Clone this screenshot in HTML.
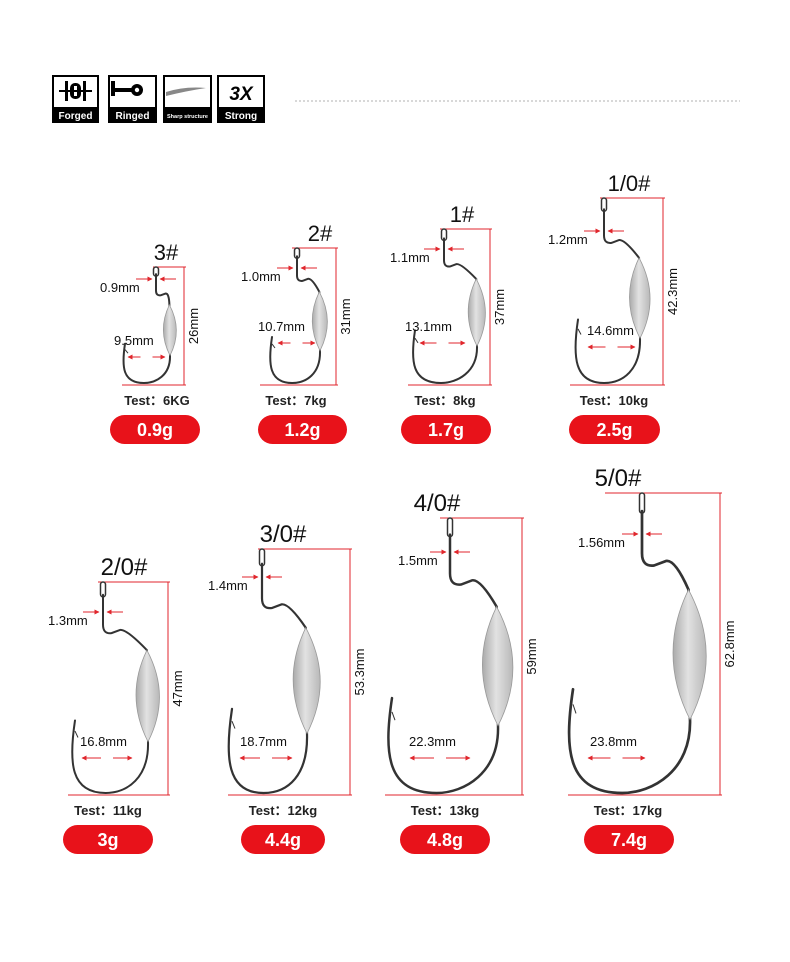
<!DOCTYPE html>
<html><head><meta charset="utf-8"><style>
body{margin:0;background:#fff;width:790px;height:957px;overflow:hidden;font-family:"Liberation Sans",sans-serif}
</style></head><body>
<svg id="s" width="790" height="957" xmlns="http://www.w3.org/2000/svg" font-family="Liberation Sans, sans-serif">
<defs>
<linearGradient id="wg" x1="0" x2="1" y1="0" y2="0"><stop offset="0" stop-color="#aaa"/><stop offset="0.45" stop-color="#e2e2e2"/><stop offset="1" stop-color="#b8b8b8"/></linearGradient>
<marker id="ar" viewBox="0 0 10 10" refX="9" refY="5" markerWidth="5" markerHeight="5" orient="auto"><path d="M0,0L10,5L0,10z" fill="#e0262c"/></marker>
</defs>
<g>
<rect x="52" y="75" width="47" height="48" fill="#000"/><rect x="54" y="77" width="43" height="30" fill="#fff"/>
<rect x="65" y="81" width="3" height="20" fill="#000"/><rect x="83" y="81" width="3" height="20" fill="#000"/><rect x="70" y="83" width="11" height="16" rx="5" fill="#000"/><rect x="74" y="86" width="3" height="10" fill="#fff"/><rect x="59" y="90" width="33" height="2" fill="#000"/>
<text x="75.5" y="119" fill="#fff" font-size="10" font-weight="bold" text-anchor="middle">Forged</text>
<rect x="108" y="75" width="49" height="48" fill="#000"/><rect x="110" y="77" width="45" height="30" fill="#fff"/>
<rect x="111" y="81" width="4" height="15" fill="#000"/><rect x="111" y="88" width="22" height="4" fill="#000"/><circle cx="137" cy="90" r="6" fill="#000"/><circle cx="137" cy="90" r="2.2" fill="#fff"/>
<text x="132.5" y="119" fill="#fff" font-size="10" font-weight="bold" text-anchor="middle">Ringed</text>
<rect x="163" y="75" width="49" height="48" fill="#000"/><rect x="165" y="77" width="45" height="30" fill="#fff"/>
<path d="M166,92 Q185,86 206,88 Q186,91 166,96z" fill="#888"/>
<text x="187.5" y="118" fill="#fff" font-size="5.5" font-weight="bold" text-anchor="middle">Sharp structure</text>
<rect x="217" y="75" width="48" height="48" fill="#000"/><rect x="219" y="77" width="44" height="30" fill="#fff"/>
<text x="241" y="100" fill="#000" font-size="19" font-weight="bold" font-style="italic" text-anchor="middle">3X</text>
<text x="241" y="119" fill="#fff" font-size="10" font-weight="bold" text-anchor="middle">Strong</text>
</g>
<line x1="295" y1="101" x2="740" y2="101" stroke="#ccc" stroke-width="1.5" stroke-dasharray="2,2"/>
<g id="h"></g>
</svg>
<script>
var D=[
["3#",166,156,267,385,184,153,122,170,125,"0.9mm",100,292,"9.5mm",114,345,128,165,"26mm","Test: 6KG",157,405,110,200,415],
["2#",320,297,248,385,336,292,260,320,272,"1.0mm",241,281,"10.7mm",258,331,278,315,"31mm","Test: 7kg",296,405,258,347,415],
["1#",462,444,229,385,490,440,408,477,415,"1.1mm",390,262,"13.1mm",405,331,420,465,"37mm","Test: 8kg",445,405,401,491,415],
["1/0#",629,604,198,385,663,600,570,640,578,"1.2mm",548,244,"14.6mm",587,335,588,635,"42.3mm","Test: 10kg",614,405,569,660,415],
["2/0#",124,103,582,795,168,98,68,148,75,"1.3mm",48,625,"16.8mm",80,746,82,132,"47mm","Test: 11kg",108,815,63,153,825],
["3/0#",283,262,549,795,350,258,228,307,232,"1.4mm",208,590,"18.7mm",240,746,240,292,"53.3mm","Test: 12kg",283,815,241,325,825],
["4/0#",437,450,518,795,522,440,385,498,392,"1.5mm",398,565,"22.3mm",409,746,410,470,"59mm","Test: 13kg",445,815,400,490,825],
["5/0#",618,642,493,795,720,605,568,690,573,"1.56mm",578,547,"23.8mm",590,746,588,645,"62.8mm","Test: 17kg",628,815,584,674,825]];
var o="";
D.forEach(function(d,i){
var t=d[0],tx=d[1],ex=d[2],ty=d[3],by=d[4],vx=d[5],tl=d[6],bl=d[7],wc=d[8],lx=d[9];
var H=by-ty,R="#e0262c";
o+='<text x="'+tx+'" y="'+(ty-7)+'" font-size="'+(H>200?24:22)+'" text-anchor="middle" fill="#111">'+t+'</text>';
o+='<line x1="'+tl+'" y1="'+ty+'" x2="'+(vx+2)+'" y2="'+ty+'" stroke="'+R+'"/>';
o+='<line x1="'+bl+'" y1="'+by+'" x2="'+(vx+2)+'" y2="'+by+'" stroke="'+R+'"/>';
o+='<line x1="'+vx+'" y1="'+ty+'" x2="'+vx+'" y2="'+by+'" stroke="'+R+'"/>';
var wt=ty+0.32*H,wb=ty+0.75*H,wm=(wt+wb)/2,sw=Math.max(2,H*0.009);
var bx=lx+0.42*(wc-lx);
var p="M"+ex+","+(ty+0.06*H)+" L"+ex+","+(ty+0.2*H)+" Q"+ex+","+(ty+0.245*H)+" "+(ex+0.04*H)+","+(ty+0.24*H)+" L"+(ex+0.08*H)+","+(ty+0.225*H)+" Q"+(ex+0.11*H)+","+(ty+0.22*H)+" "+(wc-0.005*H)+","+wt+" L"+(wc)+","+wb+" C"+(wc+0.005*H)+","+(by-0.08*H)+" "+(bx+0.1*H)+","+(by-2)+" "+bx+","+(by-2)+" C"+(lx-0.02*H)+","+(by-2)+" "+(lx-0.03*H)+","+(by-0.15*H)+" "+lx+","+(by-0.35*H);
o+='<path d="'+p+'" fill="none" stroke="#333" stroke-width="'+sw+'" stroke-linecap="round"/>';
o+='<line x1="'+lx+'" y1="'+(by-0.3*H)+'" x2="'+(lx+3)+'" y2="'+(by-0.27*H)+'" stroke="#333" stroke-width="1"/>';
o+='<rect x="'+(ex-2.5)+'" y="'+ty+'" width="5" height="'+(0.06*H+2)+'" rx="2.5" fill="none" stroke="#333" stroke-width="1.5"/>';
o+='<path d="M'+(wc-0.005*H)+','+wt+' Q'+(wc+0.11*H)+','+wm+' '+(wc)+','+wb+' Q'+(wc-0.11*H)+','+wm+' '+(wc-0.005*H)+','+wt+'z" fill="url(#wg)" stroke="#999" stroke-width="0.8"/>';
var ay=d[12]-13;
o+='<line x1="'+(ex-20)+'" y1="'+ay+'" x2="'+(ex-4)+'" y2="'+ay+'" stroke="'+R+'" marker-end="url(#ar)"/>';
o+='<line x1="'+(ex+20)+'" y1="'+ay+'" x2="'+(ex+4)+'" y2="'+ay+'" stroke="'+R+'" marker-end="url(#ar)"/>';
o+='<text x="'+d[11]+'" y="'+d[12]+'" font-size="13" fill="#111">'+d[10]+'</text>';
o+='<text x="'+d[14]+'" y="'+d[15]+'" font-size="13" fill="#111">'+d[13]+'</text>';
var gy=d[15]+12,gm=(d[16]+d[17])/2;
o+='<line x1="'+(gm-6)+'" y1="'+gy+'" x2="'+d[16]+'" y2="'+gy+'" stroke="'+R+'" marker-end="url(#ar)"/>';
o+='<line x1="'+(gm+6)+'" y1="'+gy+'" x2="'+d[17]+'" y2="'+gy+'" stroke="'+R+'" marker-end="url(#ar)"/>';
var dy=(ty+by)/2;
o+='<text x="'+(vx+16)+'" y="'+dy+'" font-size="13" fill="#111" text-anchor="middle" transform="rotate(-90 '+(vx+16)+' '+dy+')" dy="-2">'+d[18]+'</text>';
o+='<text x="'+d[20]+'" y="'+d[21]+'" font-size="13" font-weight="bold" fill="#222" text-anchor="middle">'+d[19].replace(": ","：")+'</text>';
var py=d[24];
o+='<rect x="'+d[22]+'" y="'+py+'" width="'+(d[23]-d[22])+'" height="29" rx="14.5" fill="#e8121a"/>';
o+='<text x="'+((d[22]+d[23])/2)+'" y="'+(py+21)+'" font-size="18" font-weight="bold" fill="#fff" text-anchor="middle">'+["0.9g","1.2g","1.7g","2.5g","3g","4.4g","4.8g","7.4g"][i]+'</text>';
});
document.getElementById("h").innerHTML=o;
</script>
</body></html>
